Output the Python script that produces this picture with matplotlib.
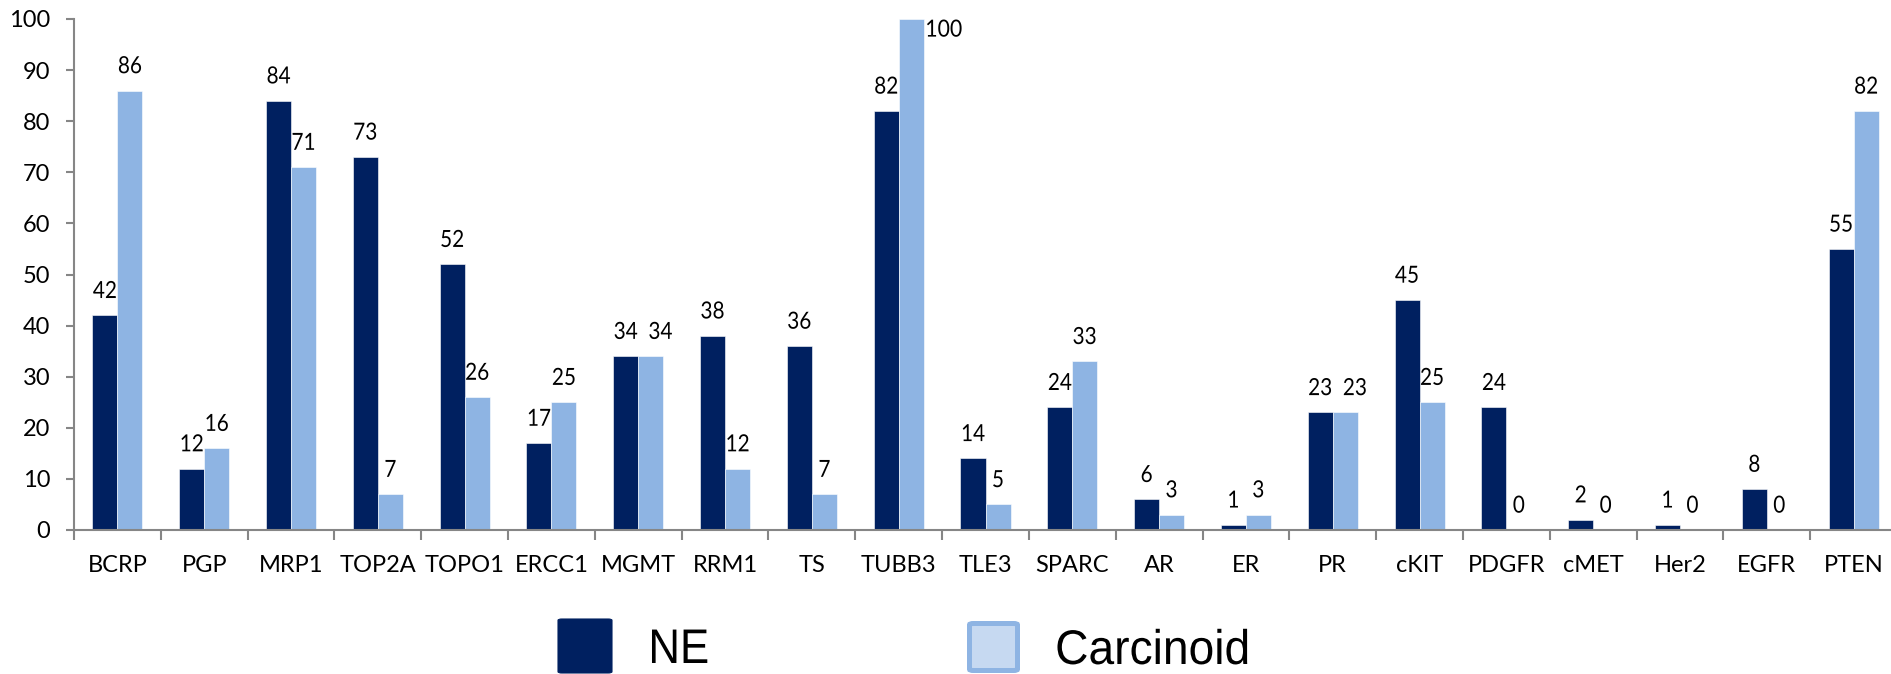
import matplotlib
matplotlib.use("Agg")
import matplotlib.pyplot as plt
from matplotlib.patches import FancyBboxPatch
from matplotlib.patheffects import AbstractPathEffect
from matplotlib.transforms import Affine2D
import numpy as np

# Marker expression by tumour type (%)
markers = ["BCRP", "PGP", "MRP1", "TOP2A", "TOPO1", "ERCC1", "MGMT", "RRM1", "TS",
           "TUBB3", "TLE3", "SPARC", "AR", "ER", "PR", "cKIT", "PDGFR", "cMET",
           "Her2", "EGFR", "PTEN"]
ne_values = [42, 12, 84, 73, 52, 17, 34, 38, 36, 82, 14, 24, 6, 1, 23, 45, 24, 2, 1, 8, 55]
carcinoid_values = [86, 16, 71, 7, 26, 25, 34, 12, 7, 100, 5, 33, 3, 3, 23, 25, 0, 0, 0, 0, 82]
series_names = ["NE", "Carcinoid"]
y_ticks = [0, 10, 20, 30, 40, 50, 60, 70, 80, 90, 100]

dark = "#002060"
light = "#8EB4E3"
light_fill = "#C6D9F1"
axis_grey = "#868686"
font = ["Lato", "DejaVu Sans"]
legend_font = ["Liberation Sans", "DejaVu Sans"]
fs = 17


class Condense(AbstractPathEffect):
    """Squeeze a text's glyphs horizontally about its left edge or its centre."""

    def __init__(self, sx, anchor="center"):
        super().__init__()
        self.sx = sx
        self.anchor = anchor

    def draw_path(self, renderer, gc, tpath, affine, rgbFace=None):
        ext = tpath.get_extents(affine)
        x0 = ext.x0 if self.anchor == "left" else 0.5 * (ext.x0 + ext.x1)
        squeeze = Affine2D().translate(-x0, 0).scale(self.sx, 1).translate(x0, 0)
        renderer.draw_path(gc, tpath, affine + squeeze, rgbFace)


W, H = 1891, 674
fig = plt.figure(figsize=(W / 100, H / 100), dpi=100)
ax = fig.add_axes([74 / W, 1 - 530 / H, 1823 / W, 511 / H])

x = np.arange(len(markers))
bw = 0.288
bars_ne = ax.bar(x - bw / 2, ne_values, bw, color=dark, edgecolor="white", linewidth=0.4)
bars_ca = ax.bar(x + bw / 2, carcinoid_values, bw, color=light, edgecolor="white", linewidth=0.4)

ax.set_xlim(-0.5, len(markers) - 0.5)
ax.set_ylim(0, 100)

for s in ("top", "right"):
    ax.spines[s].set_visible(False)
for s in ("left", "bottom"):
    ax.spines[s].set_color(axis_grey)
    ax.spines[s].set_linewidth(1.5)
ax.spines["left"].set_bounds(0, 100)

ax.set_yticks(y_ticks)
ax.set_yticklabels([str(v) for v in y_ticks], fontfamily=font, fontsize=fs)
ax.tick_params(axis="y", length=6, width=1.5, color=axis_grey, pad=11)

# category boundaries carry the tick marks, centres carry the labels
ax.set_xticks(np.arange(len(markers) + 1) - 0.5)
ax.set_xticklabels([])
ax.tick_params(axis="x", which="major", length=7, width=1.5, color=axis_grey)
ax.set_xticks(x, minor=True)
ax.set_xticklabels(markers, minor=True, fontfamily=font, fontsize=fs)
ax.tick_params(axis="x", which="minor", length=0, pad=18)


def label_bars(bars, values, others=None):
    for b, v, o in zip(bars, values, others if others is not None else values):
        cx = b.get_x() + b.get_width() / 2
        if v >= 100:
            ax.annotate(str(v), (b.get_x() + b.get_width(), v), xytext=(1, -8),
                        textcoords="offset points", ha="left", va="center",
                        fontfamily=font, fontsize=fs,
                        path_effects=[Condense(0.9, "left")])
        else:
            # push a label sideways when it sits level with its neighbour's label
            dx = 7 if (others is not None and o == v) else 0
            ax.annotate(str(v), (cx, v), xytext=(dx, 12.5), textcoords="offset points",
                        ha="center", va="baseline", fontfamily=font, fontsize=fs,
                        annotation_clip=False, path_effects=[Condense(0.88)])


label_bars(bars_ne, ne_values)
label_bars(bars_ca, carcinoid_values, ne_values)


def px_box(x0, y0, x1, y1, **kw):
    """Legend key given in pixel corners measured from the top-left."""
    return FancyBboxPatch((x0 / W, 1 - y1 / H), (x1 - x0) / W, (y1 - y0) / H,
                          boxstyle="round,pad=0,rounding_size=0.002",
                          transform=fig.transFigure, **kw)


# legend
fig.add_artist(px_box(558, 619, 612, 673, facecolor=dark, edgecolor=dark, linewidth=0.8))
fig.text(648 / W, 1 - 663 / H, series_names[0], fontfamily=legend_font, fontsize=35,
         ha="left", va="baseline", path_effects=[Condense(0.9, "left")])
fig.add_artist(px_box(969.5, 623.5, 1017.5, 670.5, facecolor=light_fill, edgecolor=light,
                      linewidth=3.6))
fig.text(1055 / W, 1 - 664 / H, series_names[1], fontfamily=legend_font, fontsize=35,
         ha="left", va="baseline", path_effects=[Condense(0.95, "left")])

fig.savefig("out.png", dpi=100)
